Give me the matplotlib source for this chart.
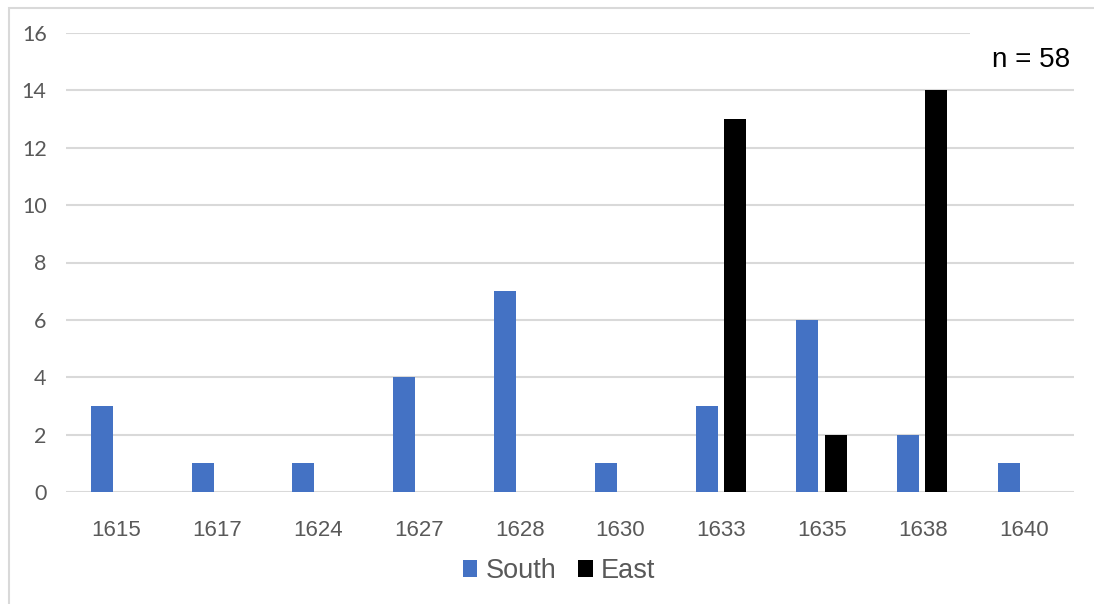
import numpy as np
import matplotlib
matplotlib.use("Agg")
import matplotlib.pyplot as plt
from matplotlib.patches import Rectangle

years = ['1615', '1617', '1624', '1627', '1628', '1630', '1633', '1635', '1638', '1640']
south = [3, 1, 1, 4, 7, 1, 3, 6, 2, 1]
east = [0, 0, 0, 0, 0, 0, 13, 2, 14, 0]
n_label = 'n = 58'

plt.rcParams['font.family'] = ['Liberation Sans', 'DejaVu Sans']

fig = plt.figure(figsize=(10.94, 6.04), dpi=100)
ax = fig.add_axes([66 / 1094, 1 - 492 / 604, (1074 - 66) / 1094, (492 - 33) / 604])

x = np.arange(len(years))
w = 0.218
ax.bar(x - 0.145, south, w, color='#4472C4', label='South', zorder=3)
ax.bar(x + 0.135, east, w, color='#000000', label='East', zorder=3)

ax.set_xlim(-0.5, len(years) - 0.5)
ax.set_ylim(0, 16)
ax.set_yticks(range(0, 17, 2))
ax.set_xticks(x)
ax.set_xticklabels(years)
ax.yaxis.grid(True, color='#D9D9D9', linewidth=1.5, zorder=0)
ax.set_axisbelow(True)
for s in ax.spines.values():
    s.set_visible(False)
ax.tick_params(axis='x', length=0, pad=20, labelsize=16, labelcolor='#595959')
ax.tick_params(axis='y', length=0, pad=14, labelsize=15.5, labelcolor='#595959')
for lbl in ax.get_yticklabels():
    lbl.set_fontfamily(['Lato', 'DejaVu Sans'])

# white box behind the count label hides the end of the top gridline
fig.patches.append(Rectangle((970 / 1094, 1 - 80 / 604), 110 / 1094, 55 / 604,
                             transform=fig.transFigure, facecolor='white',
                             edgecolor='none', zorder=5))
fig.text(1070 / 1094, 1 - 60 / 604, n_label, ha='right', va='center',
         fontsize=20, color='black', zorder=6)

# outer chart border
fig.patches.append(Rectangle((8.5 / 1094, -0.5), 2, 1.5 - 7.5 / 604,
                             transform=fig.transFigure, fill=False,
                             edgecolor='#D9D9D9', linewidth=1.5, zorder=1))

fig.legend(loc='center', bbox_to_anchor=(559 / 1094, 1 - 571 / 604), ncol=2,
           frameon=False, fontsize=19.5, handlelength=0.55, handleheight=0.55,
           handletextpad=0.3, columnspacing=0.8, labelcolor='#595959')

fig.savefig('out.png', dpi=100)
